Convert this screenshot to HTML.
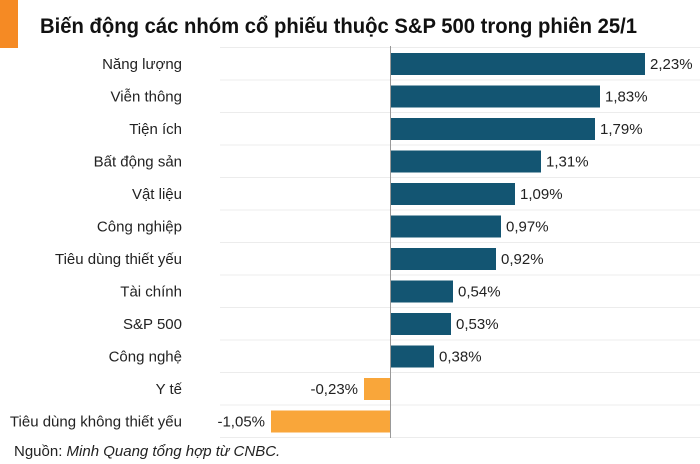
<!DOCTYPE html>
<html><head><meta charset="utf-8"><style>
body{margin:0;background:#fff;}
svg{display:block;font-family:"Liberation Sans","DejaVu Sans",sans-serif;}
</style></head><body>
<svg width="700" height="464" viewBox="0 0 700 464" xmlns="http://www.w3.org/2000/svg">
<rect x="0" y="0" width="18" height="48" fill="#f58a24"/>
<text x="40" y="33" font-size="21" font-weight="bold" fill="#111" textLength="597" lengthAdjust="spacingAndGlyphs">Biến động các nhóm cổ phiếu thuộc S&amp;P 500 trong phiên 25/1</text>
<g stroke="#ececec" stroke-width="1">
<line x1="220" x2="700" y1="47.5" y2="47.5"/><line x1="220" x2="700" y1="80" y2="80"/>
<line x1="220" x2="700" y1="112.5" y2="112.5"/><line x1="220" x2="700" y1="145" y2="145"/>
<line x1="220" x2="700" y1="177.5" y2="177.5"/><line x1="220" x2="700" y1="210" y2="210"/>
<line x1="220" x2="700" y1="242.5" y2="242.5"/><line x1="220" x2="700" y1="275" y2="275"/>
<line x1="220" x2="700" y1="307.5" y2="307.5"/><line x1="220" x2="700" y1="340" y2="340"/>
<line x1="220" x2="700" y1="372.5" y2="372.5"/><line x1="220" x2="700" y1="405" y2="405"/>
<line x1="220" x2="700" y1="437.5" y2="437.5"/>
</g>
<g fill="#135572">
<rect x="391" y="53" width="254" height="22"/>
<rect x="391" y="85.5" width="209" height="22"/>
<rect x="391" y="118" width="204" height="22"/>
<rect x="391" y="150.5" width="150" height="22"/>
<rect x="391" y="183" width="124" height="22"/>
<rect x="391" y="215.5" width="110" height="22"/>
<rect x="391" y="248" width="105" height="22"/>
<rect x="391" y="280.5" width="62" height="22"/>
<rect x="391" y="313" width="60" height="22"/>
<rect x="391" y="345.5" width="43" height="22"/>
</g>
<g fill="#f9a63a">
<rect x="364" y="378" width="26" height="22"/>
<rect x="271" y="410.5" width="119" height="22"/>
</g>
<line x1="390.5" x2="390.5" y1="46" y2="438" stroke="#999" stroke-width="1"/>
<g font-size="15" fill="#222" text-anchor="end">
<text x="182" y="69">Năng lượng</text>
<text x="182" y="101.5">Viễn thông</text>
<text x="182" y="134">Tiện ích</text>
<text x="182" y="166.5">Bất động sản</text>
<text x="182" y="199">Vật liệu</text>
<text x="182" y="231.5">Công nghiệp</text>
<text x="182" y="264">Tiêu dùng thiết yếu</text>
<text x="182" y="296.5">Tài chính</text>
<text x="182" y="329">S&amp;P 500</text>
<text x="182" y="361.5">Công nghệ</text>
<text x="182" y="394">Y tế</text>
<text x="182" y="426.5">Tiêu dùng không thiết yếu</text>
<text x="358" y="394">-0,23%</text>
<text x="265" y="426.5">-1,05%</text>
</g>
<g font-size="15" fill="#222">
<text x="650" y="69">2,23%</text>
<text x="605" y="101.5">1,83%</text>
<text x="600" y="134">1,79%</text>
<text x="546" y="166.5">1,31%</text>
<text x="520" y="199">1,09%</text>
<text x="506" y="231.5">0,97%</text>
<text x="501" y="264">0,92%</text>
<text x="458" y="296.5">0,54%</text>
<text x="456" y="329">0,53%</text>
<text x="439" y="361.5">0,38%</text>
</g>
<text x="14" y="456" font-size="15" fill="#222">Nguồn: <tspan font-style="italic">Minh Quang tổng hợp từ CNBC.</tspan></text>
</svg>
</body></html>
